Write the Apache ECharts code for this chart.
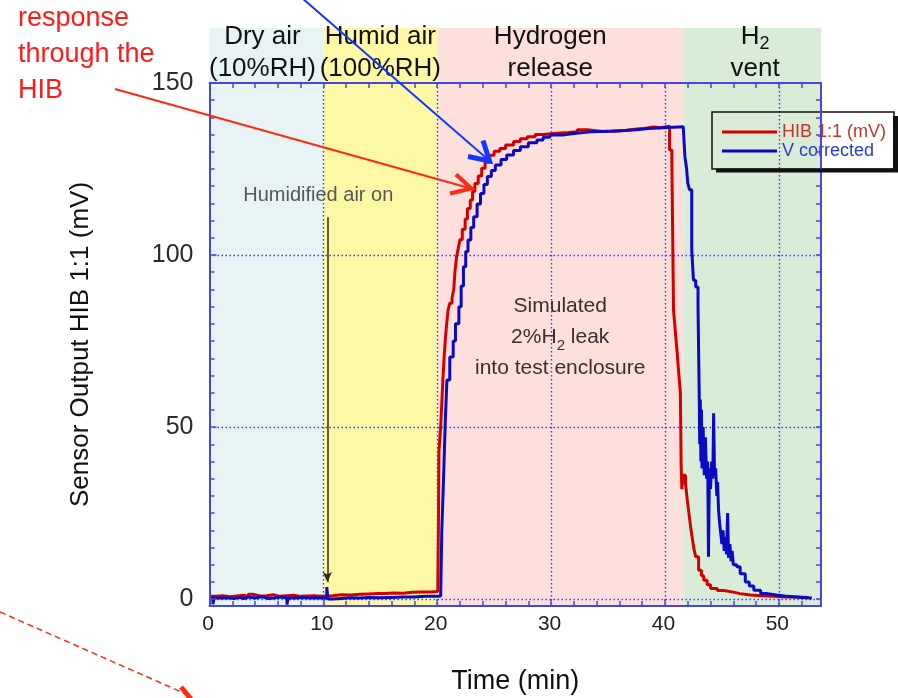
<!DOCTYPE html>
<html>
<head>
<meta charset="utf-8">
<script src="https://cdn.jsdelivr.net/npm/echarts@6/dist/echarts.min.js"></script>
<style>
  html, body { margin: 0; padding: 0; background: #ffffff; }
  #chart { width: 898px; height: 698px; }
</style>
</head>
<body>
<div id="chart"></div>
<script>
const FONT = '"Liberation Sans", Arial, Helvetica, sans-serif';

// Test phases along the time axis (min)
const phaseStart = [0, 10, 20, 41.6];
const phaseEnd = [10, 20, 41.6, 53.7];
const phaseLabels = ['Dry air\n(10%RH)', 'Humid air\n(100%RH)', 'Hydrogen\nrelease', 'H{sub|2}\nvent'];

// Axis ticks
const xTickValues = [0, 10, 20, 30, 40, 50];
const yTickValues = [0, 50, 100, 150];

// Sensor output, HIB 1:1 (mV): [time (min), value]
const hibReadings = [
  [0, 0.8], [0.6, 1.0], [1.2, 0.7], [1.8, 0.9], [2.4, 1.1], [3.0, 0.8], [3.4, 1.4], [3.8, 0.9],
  [4.4, 1.0], [5.0, 1.3], [5.6, 0.8], [6.2, 1.0], [6.8, 1.1], [7.4, 0.8], [8.0, 0.9], [8.6, 1.0],
  [9.2, 0.8], [9.8, 0.9], [10.2, 1.0], [10.8, 1.3], [11.6, 1.2], [12.4, 1.4], [13.2, 1.5], [14.0, 1.6],
  [14.8, 1.6], [15.4, 1.8], [16.2, 1.7], [17.0, 2.0], [17.8, 2.1], [18.6, 2.1], [19.4, 2.2], [20.05, 2.2],
  [20.1, 20], [20.15, 43], [20.3, 50], [20.4, 57], [20.5, 64], [20.6, 70], [20.7, 75], [20.8, 79],
  [20.95, 84], [21.1, 86], [21.3, 87.5], [21.45, 90], [21.55, 95], [21.7, 99.5], [21.85, 102], [22.0, 104.5],
  [22.2, 107.5], [22.45, 110.5], [22.65, 113.5], [22.9, 116], [23.1, 118.5], [23.3, 120.8], [23.6, 123], [23.9, 125.2],
  [24.2, 127], [24.6, 129], [25.0, 130.2], [25.5, 131], [26.0, 132], [26.7, 133], [27.3, 133.8], [27.9, 134.4],
  [28.6, 135], [29.3, 135.4], [30.5, 135.6], [31.5, 135.8], [32.3, 136.4], [33.2, 135.9], [34.5, 136.0], [35.5, 136.2],
  [36.5, 136.6], [37.5, 136.8], [38.2, 137.2], [39.0, 137.0], [39.6, 137.4], [40.4, 130.5], [40.6, 128], [40.75, 84],
  [40.9, 78], [41.05, 72.4], [41.2, 66], [41.35, 59.9], [41.42, 38.5], [41.48, 32], [41.6, 36], [41.8, 33.7],
  [41.95, 29], [42.1, 25], [42.25, 21], [42.4, 17.6], [42.55, 14.5], [42.7, 12.3], [42.95, 8.4], [43.2, 6.8],
  [43.4, 5.5], [43.7, 4.2], [44.0, 3.1], [44.6, 2.5], [45.15, 2.1], [45.9, 1.6], [46.6, 1.2], [47.5, 1.0],
  [48.5, 0.8], [49.5, 0.6], [50.5, 0.6], [51.5, 0.5], [52.6, 0.5]
];

// Corrected output (mV): [time (min), value]
const vCorrectedReadings = [
  [0, 0.3], [0.3, -1.5], [0.4, 0.3], [1.0, 0.4], [1.6, 0.2], [2.2, 0.5], [2.6, 0.2], [3.0, 0.6],
  [3.5, 0.3], [4.0, 0.7], [4.6, 0.2], [5.2, 0.4], [5.8, 0.6], [6.4, 0.2], [6.8, -1.6], [6.9, 0.3],
  [7.5, 0.5], [8.2, 0.3], [8.8, 0.4], [9.4, 0.3], [10.0, 0.3], [10.3, 3.5], [10.4, 0.0], [10.8, 0.2],
  [11.6, 0.4], [12.4, 0.3], [13.2, 0.5], [14.0, 0.4], [15.0, 0.5], [16.0, 0.6], [17.0, 0.6], [18.0, 0.8],
  [19.0, 0.8], [20.0, 0.9], [20.3, 1.0], [20.4, 20], [20.5, 29.7], [20.6, 40], [20.7, 51], [20.85, 63.7],
  [21.1, 70.4], [21.4, 75], [21.6, 80], [21.9, 85], [22.1, 91], [22.3, 96.6], [22.5, 101], [22.7, 104.4],
  [22.95, 108], [23.2, 111.1], [23.5, 114.8], [23.8, 117.9], [24.1, 120.5], [24.4, 122.8], [24.75, 124.6], [25.1, 126.2],
  [25.6, 127.8], [26.1, 129.1], [26.7, 130.4], [27.3, 131.5], [28.0, 132.6], [28.75, 133.4], [29.3, 134.2], [29.9, 134.9],
  [31.0, 135.3], [32.0, 135.8], [33.5, 136.0], [35.0, 136.2], [36.5, 136.4], [37.5, 136.8], [38.5, 137.3], [41.6, 137.3],
  [41.75, 128.6], [41.9, 125], [42.0, 121], [42.15, 119], [42.35, 101.5], [42.5, 92.7], [42.7, 90.7], [42.9, 85],
  [43.0, 60.8], [43.05, 45], [43.1, 58], [43.15, 40], [43.2, 55], [43.25, 38], [43.35, 50], [43.45, 36],
  [43.55, 47], [43.65, 35], [43.75, 40], [43.82, 12.3], [43.9, 38], [44.0, 32], [44.1, 40], [44.2, 35],
  [44.27, 54], [44.35, 36], [44.45, 38], [44.55, 30], [44.62, 34], [44.7, 26], [44.8, 22], [44.9, 19],
  [45.0, 16], [45.1, 20], [45.2, 14], [45.3, 18], [45.4, 13], [45.5, 25], [45.58, 12], [45.7, 16],
  [45.8, 11], [45.9, 14], [46.0, 10], [46.3, 9.4], [46.6, 7.4], [47.05, 5], [47.4, 3.8], [47.8, 2.6],
  [48.4, 1.6], [49.0, 1.2], [49.8, 0.8], [50.8, 0.5], [52.0, 0.3], [52.9, 0.2]
];

// ---- styling ----
const phaseColors = ['#e8f3f5', '#fdf8a6', '#fde0dc', '#d9ecd8'];
const phaseLabelShift = [-4, 0, -10, 3];
const AXIS_BLUE = '#4848d8';
const GRID_BLUE = '#3838f8';
const X_MIN = 0, X_MAX = 53.7, Y_MIN = -2, Y_MAX = 150;

function range(a, b, step, skip) {
  const out = [];
  for (let v = a; v <= b + 1e-9; v += step) {
    if (!skip || !skip(v)) out.push(Math.round(v * 100) / 100);
  }
  return out;
}

const chart = echarts.init(document.getElementById('chart'), null, { renderer: 'canvas' });

const plotGrid = { left: 209.5, right: 77, top: 83, bottom: 92, outerBoundsMode: 'none' };
const bandGrid = { left: 209.5, right: 77, top: 28, bottom: 92, outerBoundsMode: 'none' };

const headerText = {
  fontFamily: FONT, fontSize: 26, lineHeight: 32, color: '#111111',
  rich: { sub: { fontFamily: FONT, fontSize: 18, lineHeight: 10, verticalAlign: 'bottom', color: '#111111' } }
};

const AXIS_Z = 50;
const frameLine = { show: true, onZero: false, lineStyle: { color: AXIS_BLUE, width: 2 } };
const noLine = { show: false, onZero: false };
const gridDots = { show: true, lineStyle: { color: GRID_BLUE, width: 1.4, type: [1.5, 2.5] } };

const option = {
  animation: false,
  backgroundColor: '#ffffff',
  textStyle: { fontFamily: FONT },
  grid: [plotGrid, bandGrid],
  legend: {
    orient: 'vertical',
    left: 712, top: 112,
    padding: [11, 8, 9, 10],
    icon: 'rect',
    itemWidth: 55, itemHeight: 3, itemGap: 1,
    backgroundColor: 'transparent',
    borderColor: '#111111', borderWidth: 1.5, borderRadius: 0,
    selectedMode: false,
    textStyle: { fontFamily: FONT, fontSize: 18, lineHeight: 18 },
    data: [
      { name: 'HIB 1:1 (mV)', textStyle: { color: '#c83428' } },
      { name: 'V corrected', textStyle: { color: '#2b3bd2' } }
    ]
  },
  xAxis: [
    {
      gridIndex: 0, type: 'value', position: 'bottom', min: X_MIN, max: X_MAX, z: AXIS_Z,
      name: 'Time (min)', nameLocation: 'middle', nameGap: 62,
      nameTextStyle: { fontFamily: FONT, fontSize: 27, color: '#111111' },
      axisLine: frameLine,
      axisTick: { show: true, inside: true, length: 7, customValues: xTickValues, lineStyle: { color: AXIS_BLUE, width: 1.5 } },
      axisLabel: { show: true, customValues: xTickValues, fontFamily: FONT, fontSize: 21, color: '#222222', margin: 8, padding: [0, 3, 0, 0] },
      splitLine: { show: false }
    },
    {
      gridIndex: 0, type: 'value', position: 'bottom', min: X_MIN, max: X_MAX, z: AXIS_Z,
      axisLine: noLine,
      axisTick: { show: true, inside: true, length: 5, customValues: range(2, 52, 2, v => v % 10 === 0), lineStyle: { color: AXIS_BLUE, width: 1.5 } },
      axisLabel: { show: false },
      splitLine: { show: false }
    },
    {
      gridIndex: 0, type: 'value', position: 'top', min: X_MIN, max: X_MAX, z: AXIS_Z,
      axisLine: frameLine,
      axisTick: { show: true, inside: true, length: 5, customValues: range(2, 52, 2), lineStyle: { color: AXIS_BLUE, width: 1.5 } },
      axisLabel: { show: false },
      splitLine: { show: false }
    },
    {
      gridIndex: 1, type: 'value', min: X_MIN, max: X_MAX, show: false
    },
    {
      // dotted vertical grid lines, kept beneath the traces
      gridIndex: 0, type: 'value', position: 'bottom', min: X_MIN, max: X_MAX, z: 1,
      axisLine: noLine,
      axisTick: { show: false, customValues: xTickValues.filter(v => v > 0) },
      axisLabel: { show: false },
      splitLine: gridDots
    }
  ],
  yAxis: [
    {
      gridIndex: 0, type: 'value', position: 'left', min: Y_MIN, max: Y_MAX, z: AXIS_Z,
      name: 'Sensor Output HIB 1:1 (mV)', nameLocation: 'middle', nameGap: 116, nameRotate: 90,
      nameTextStyle: { fontFamily: FONT, fontSize: 26, color: '#111111' },
      axisLine: frameLine,
      axisTick: { show: true, inside: true, length: 7, customValues: yTickValues, lineStyle: { color: AXIS_BLUE, width: 1.5 } },
      axisLabel: { show: true, customValues: yTickValues, fontFamily: FONT, fontSize: 25, color: '#2a2a2a', margin: 16, padding: [0, 0, 6, 0] },
      splitLine: { show: false }
    },
    {
      gridIndex: 0, type: 'value', position: 'left', min: Y_MIN, max: Y_MAX, z: AXIS_Z,
      axisLine: noLine,
      axisTick: { show: true, inside: true, length: 5, customValues: range(5, 145, 5, v => v % 50 === 0), lineStyle: { color: AXIS_BLUE, width: 1.5 } },
      axisLabel: { show: false },
      splitLine: { show: false }
    },
    {
      gridIndex: 0, type: 'value', position: 'right', min: Y_MIN, max: Y_MAX, z: AXIS_Z,
      axisLine: frameLine,
      axisTick: { show: true, inside: true, length: 5, customValues: range(0, 145, 5), lineStyle: { color: AXIS_BLUE, width: 1.5 } },
      axisLabel: { show: false },
      splitLine: { show: false }
    },
    {
      gridIndex: 1, type: 'value', min: Y_MIN, max: Y_MIN + (698 - 92 - 28) * (Y_MAX - Y_MIN) / (698 - 92 - 83), show: false
    },
    {
      // dotted horizontal grid lines, kept beneath the traces
      gridIndex: 0, type: 'value', position: 'left', min: Y_MIN, max: Y_MAX, z: 1,
      axisLine: noLine,
      axisTick: { show: false, customValues: yTickValues.filter(v => v < 150) },
      axisLabel: { show: false },
      splitLine: gridDots
    }
  ],
  series: [
    {
      // coloured test phases, extending above the plot frame with their titles
      name: 'phases', type: 'line', xAxisIndex: 3, yAxisIndex: 3, data: [], z: -10, silent: true,
      markArea: {
        silent: true, z: -10,
        data: phaseStart.map((s, i) => [
          {
            xAxis: s,
            itemStyle: { color: phaseColors[i] },
            label: Object.assign({
              show: true, position: 'insideTop', distance: 0, offset: [phaseLabelShift[i], -7],
              formatter: phaseLabels[i]
            }, headerText)
          },
          { xAxis: phaseEnd[i] }
        ])
      }
    },
    {
      // in-plot notes
      name: 'notes', type: 'line', xAxisIndex: 0, yAxisIndex: 0, data: [], z: 5, silent: true,
      markLine: {
        silent: true, symbol: 'none', animation: false,
        label: { show: false },
        data: [[
          { coord: [10.35, 111], symbol: 'none', lineStyle: { color: '#2b2b1b', width: 1.5, type: 'solid' } },
          { coord: [10.35, 5], symbol: 'arrow', symbolSize: [7, 10], lineStyle: { color: '#2b2b1b', width: 1.5, type: 'solid' } }
        ]]
      },
      markPoint: {
        silent: true, symbol: 'circle', symbolSize: 1, itemStyle: { color: 'rgba(0,0,0,0)' },
        data: [
          {
            coord: [9.55, 117.4],
            label: { show: true, position: 'inside', formatter: 'Humidified air on', fontFamily: FONT, fontSize: 20, color: '#565656' }
          },
          {
            coord: [30.8, 76],
            label: {
              show: true, position: 'inside', formatter: 'Simulated\n2%H{sub|2} leak\ninto test enclosure',
              fontFamily: FONT, fontSize: 21, lineHeight: 31, color: '#3a2e2e', align: 'center',
              rich: { sub: { fontFamily: FONT, fontSize: 15, lineHeight: 6, verticalAlign: 'bottom', color: '#3a2e2e' } }
            }
          }
        ]
      }
    },
    {
      name: 'HIB 1:1 (mV)', type: 'line', xAxisIndex: 0, yAxisIndex: 0,
      data: hibReadings, step: 'end', symbol: 'none', z: 3,
      color: '#d40000', lineStyle: { color: '#d40000', width: 3 }
    },
    {
      name: 'V corrected', type: 'line', xAxisIndex: 0, yAxisIndex: 0,
      data: vCorrectedReadings, step: 'end', symbol: 'none', z: 4,
      color: '#0a0ac4', lineStyle: { color: '#0a0ac4', width: 3 }
    }
  ],
  graphic: [
    {
      type: 'text', x: 18, y: 1, z: 100,
      style: { text: 'response\nthrough the\nHIB', fill: '#ff1a1a', fontFamily: FONT, fontSize: 27, lineHeight: 36 }
    },
    // red pointer to the HIB trace
    { type: 'line', z: 100, shape: { x1: 115, y1: 89, x2: 470, y2: 188.3 }, style: { stroke: '#ff2a10', lineWidth: 2 } },
    { type: 'polyline', z: 100, shape: { points: [[456, 174.5], [471.5, 188.5], [450, 193.5]] }, style: { stroke: '#ff2a10', lineWidth: 4, fill: null } },
    // blue pointer to the corrected trace
    { type: 'line', z: 100, shape: { x1: 302, y1: -2, x2: 488, y2: 159.5 }, style: { stroke: '#1238ff', lineWidth: 2 } },
    { type: 'polyline', z: 100, shape: { points: [[483, 140.5], [489.5, 161], [468, 156.5]] }, style: { stroke: '#1238ff', lineWidth: 5, fill: null } },
    // dashed pointer leaving the lower-left corner
    { type: 'line', z: 100, shape: { x1: 0, y1: 612, x2: 186, y2: 694 }, style: { stroke: '#ff2a10', lineWidth: 1.5, lineDash: [6, 4] } },
    { type: 'line', z: 100, shape: { x1: 181, y1: 687, x2: 191, y2: 699 }, style: { stroke: '#ff2a10', lineWidth: 5 } },
    // legend drop shadow
    {
      type: 'polygon', z: 100,
      shape: { points: [[893, 116], [898, 116], [898, 172.5], [716, 172.5], [716, 168.5], [893, 168.5]] },
      style: { fill: '#111111' }
    }
  ]
};

chart.setOption(option);
</script>
</body>
</html>
